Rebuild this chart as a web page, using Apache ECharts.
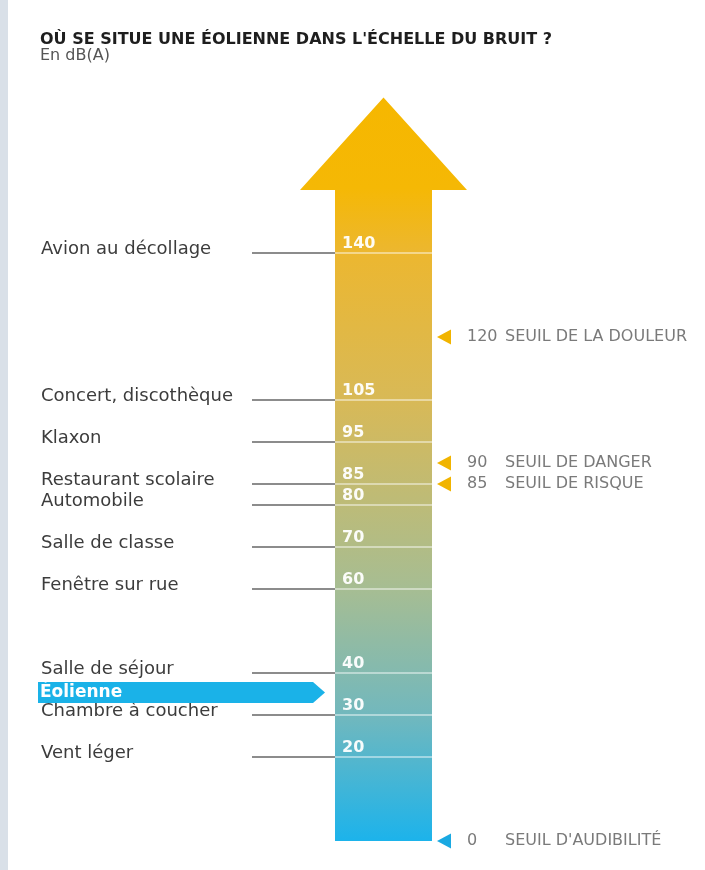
<!DOCTYPE html>
<html><head><meta charset="utf-8">
<script src="https://cdn.jsdelivr.net/npm/echarts@6/dist/echarts.min.js"></script>
<style>html,body{margin:0;padding:0;background:#fff}#c{width:705px;height:870px}</style>
</head><body><div id="c"></div>
<script>
// ---- data ----
const titleText = "OÙ SE SITUE UNE ÉOLIENNE DANS L'ÉCHELLE DU BRUIT ?";
const subtitleText = "En dB(A)";
const sources = ["Avion au décollage", "Concert, discothèque", "Klaxon", "Restaurant scolaire", "Automobile", "Salle de classe", "Fenêtre sur rue", "Salle de séjour", "Chambre à coucher", "Vent léger"];
const sourceLevels = [140, 105, 95, 85, 80, 70, 60, 40, 30, 20];
const turbineLabel = "Éolienne";
const turbineLevel = 35;
const thresholdNames = ["SEUIL DE LA DOULEUR", "SEUIL DE DANGER", "SEUIL DE RISQUE", "SEUIL D'AUDIBILITÉ"];
const thresholdLevels = [120, 90, 85, 0];
const scaleBottom = 0;
const shaftTop = 155;
const arrowTip = 177;

// ---- chart ----
const FONT = '"DejaVu Sans"';
const chart = echarts.init(document.getElementById('c'), null, {renderer: 'canvas'});
const SHAFT_L = 335, SHAFT_R = 432, HEAD_L = 300, HEAD_R = 467;

function yPix(api, v) { return api.coord([0, v])[1]; }
function xPix(api, v) { return api.coord([v, 0])[0]; }

function renderArrow(params, api) {
  const y0 = yPix(api, scaleBottom), y1 = yPix(api, shaftTop), yt = yPix(api, arrowTip);
  const xl = xPix(api, SHAFT_L), xr = xPix(api, SHAFT_R), hl = xPix(api, HEAD_L), hr = xPix(api, HEAD_R);
  const xm = (hl + hr) / 2;
  return {
    type: 'polygon',
    shape: {points: [[xl, y0], [xl, y1], [hl, y1], [xm, yt], [hr, y1], [xr, y1], [xr, y0]]},
    style: {
      fill: new echarts.graphic.LinearGradient(0, 0, 0, 1, [
        {offset: 0, color: '#f6b700'},
        {offset: 0.122, color: '#f5b805'},
        {offset: 0.209, color: '#ecb730'},
        {offset: 0.407, color: '#d8b957'},
        {offset: 0.662, color: '#a6bd93'},
        {offset: 0.83, color: '#72b8bd'},
        {offset: 1, color: '#1cb3eb'}
      ])
    }
  };
}

function renderSource(params, api) {
  const v = api.value(1);
  const y = yPix(api, v);
  return {
    type: 'group',
    children: [
      {type: 'line', shape: {x1: xPix(api, 252), y1: y, x2: xPix(api, SHAFT_L), y2: y}, style: {stroke: '#666666', lineWidth: 1.5}},
      {type: 'line', shape: {x1: xPix(api, SHAFT_L), y1: y, x2: xPix(api, SHAFT_R), y2: y}, style: {stroke: 'rgba(255,255,255,0.6)', lineWidth: 1.5}},
      {type: 'text', x: xPix(api, 342), y: y - 1, style: {text: String(v), fill: 'rgba(255,255,255,0.95)', font: 'bold 16px ' + FONT, verticalAlign: 'bottom', align: 'left'}},
      {type: 'text', x: xPix(api, 41), y: y - 4, style: {text: sources[params.dataIndex], fill: '#3c3c3c', font: '18px ' + FONT, verticalAlign: 'middle', align: 'left'}}
    ]
  };
}

function renderTurbine(params, api) {
  const y = yPix(api, api.value(1));
  const h = 10.5;
  const xs = xPix(api, 38), xb = xPix(api, 313), xt = xPix(api, 325);
  return {
    type: 'group',
    children: [
      {type: 'polygon', shape: {points: [[xs, y - h - 1.5], [xb, y - h - 1.5], [xt, y - 1.5], [xb, y + h - 1.5], [xs, y + h - 1.5]]}, style: {fill: '#1ab2e8'}},
      {type: 'text', x: xPix(api, 40), y: y - 1.5, style: {text: turbineLabel, fill: '#ffffff', font: 'bold 17px ' + FONT, verticalAlign: 'middle', align: 'left'}}
    ]
  };
}

function renderThreshold(params, api) {
  const v = api.value(1);
  const y = yPix(api, v);
  const col = v > 0 ? '#f1b400' : '#1aa9e2';
  return {
    type: 'group',
    children: [
      {type: 'polygon', shape: {points: [[xPix(api, 437), y], [xPix(api, 451), y - 7.5], [xPix(api, 451), y + 7.5]]}, style: {fill: col}},
      {type: 'text', x: xPix(api, 467), y: y, style: {text: String(v), fill: '#7a7a7a', font: '16px ' + FONT, verticalAlign: 'middle', align: 'left'}},
      {type: 'text', x: xPix(api, 505), y: y, style: {text: thresholdNames[params.dataIndex], fill: '#7a7a7a', font: '16px ' + FONT, verticalAlign: 'middle', align: 'left'}}
    ]
  };
}

chart.setOption({
  animation: false,
  backgroundColor: '#ffffff',
  textStyle: {fontFamily: 'DejaVu Sans'},
  title: {
    text: titleText, subtext: subtitleText, left: 35, top: 27, itemGap: 0,
    textStyle: {fontSize: 16, fontWeight: 'bold', color: '#1e1e1e', fontFamily: 'DejaVu Sans'},
    subtextStyle: {fontSize: 16, color: '#555555', fontFamily: 'DejaVu Sans'}
  },
  graphic: [{type: 'rect', left: 0, top: 0, shape: {width: 8, height: 870}, style: {fill: '#d9e0e8'}, silent: true}],
  grid: {left: 0, right: 0, top: 85, bottom: 29},
  xAxis: {type: 'value', min: 0, max: 705, show: false},
  yAxis: {type: 'value', min: 0, max: 180, show: false},
  series: [
    {type: 'custom', renderItem: renderArrow, data: [[0, scaleBottom]], silent: true, z: 1},
    {type: 'custom', renderItem: renderSource, data: sourceLevels.map(v => [0, v]), silent: true, z: 2},
    {type: 'custom', renderItem: renderTurbine, data: [[0, turbineLevel]], silent: true, z: 3},
    {type: 'custom', renderItem: renderThreshold, data: thresholdLevels.map(v => [0, v]), silent: true, z: 3}
  ]
});
</script></body></html>
